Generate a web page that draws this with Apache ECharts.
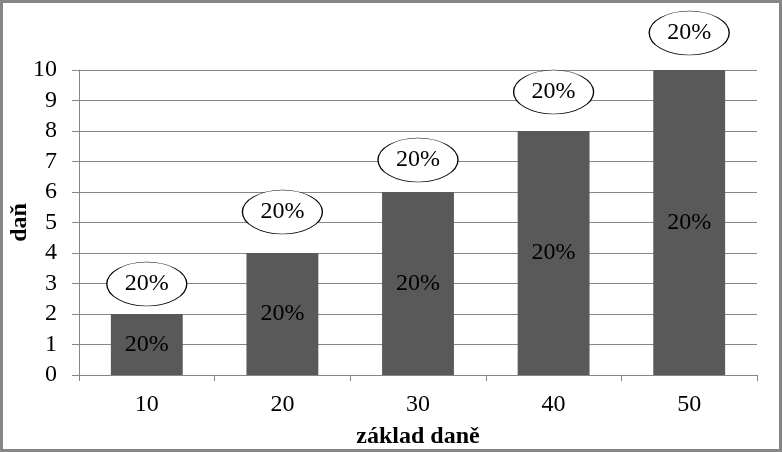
<!DOCTYPE html>
<html>
<head>
<meta charset="utf-8">
<script src="https://cdn.jsdelivr.net/npm/echarts@6/dist/echarts.min.js"></script>
<style>
html,body{margin:0;padding:0;background:#fff;}
#c{width:782px;height:452px;}
</style>
</head>
<body>
<div id="c"></div>
<script>
const categories = ['10', '20', '30', '40', '50'];
const taxValues = [2, 4, 6, 8, 10];
const rateLabels = ['20%', '20%', '20%', '20%', '20%'];
const yTicks = [0, 1, 2, 3, 4, 5, 6, 7, 8, 9, 10];

const FONT = '"Liberation Serif", "Times New Roman", serif';
const calloutLift = [30, 41, 32, 39, 37];

const chart = echarts.init(document.getElementById('c'), null, {renderer: 'canvas'});
chart.setOption({
  animation: false,
  backgroundColor: '#fff',
  textStyle: {fontFamily: FONT},
  graphic: [{
    type: 'rect', silent: true, z: 100,
    shape: {x: 1.5, y: 1.5, width: 779, height: 449},
    style: {fill: 'none', stroke: '#868686', lineWidth: 3}
  }],
  grid: {left: 79, right: 25, top: 70, bottom: 77, containLabel: false, outerBoundsMode: 'none'},
  xAxis: {
    type: 'category',
    data: categories,
    name: 'základ daně',
    nameLocation: 'middle',
    nameGap: 50,
    nameMoveOverlap: false,
    nameTextStyle: {fontFamily: FONT, fontSize: 24, fontWeight: 'bold', color: '#000'},
    axisLine: {show: true, lineStyle: {color: '#868686', width: 1}},
    axisTick: {show: true, length: 6, lineStyle: {color: '#868686'}},
    axisLabel: {fontFamily: FONT, fontSize: 24, color: '#000', margin: 18}
  },
  yAxis: {
    type: 'value',
    min: yTicks[0],
    max: yTicks[yTicks.length - 1],
    interval: 1,
    name: 'daň',
    nameLocation: 'middle',
    nameGap: 47,
    nameMoveOverlap: false,
    nameTextStyle: {fontFamily: FONT, fontSize: 24, fontWeight: 'bold', color: '#000'},
    axisLine: {show: true, lineStyle: {color: '#868686', width: 1}},
    axisTick: {show: true, length: 7, lineStyle: {color: '#868686'}},
    axisLabel: {fontFamily: FONT, fontSize: 24, color: '#000', margin: 22},
    splitLine: {show: true, lineStyle: {color: '#868686', width: 1}}
  },
  series: [
    {
      type: 'bar',
      data: taxValues,
      barWidth: '53%',
      itemStyle: {color: '#595959'},
      label: {
        show: true,
        position: 'inside',
        formatter: p => rateLabels[p.dataIndex],
        fontFamily: FONT, fontSize: 24, color: '#000'
      },
      z: 2
    },
    {
      type: 'scatter',
      data: taxValues.map((v, i) => ({value: v, symbolOffset: [0, -calloutLift[i]]})),
      symbol: 'circle',
      symbolSize: [80, 44],
      itemStyle: {color: '#fff', borderColor: '#000', borderWidth: 1, opacity: 1},
      label: {
        show: true,
        position: 'inside',
        formatter: p => rateLabels[p.dataIndex],
        fontFamily: FONT, fontSize: 24, color: '#000'
      },
      z: 5
    }
  ]
});
</script>
</body>
</html>
